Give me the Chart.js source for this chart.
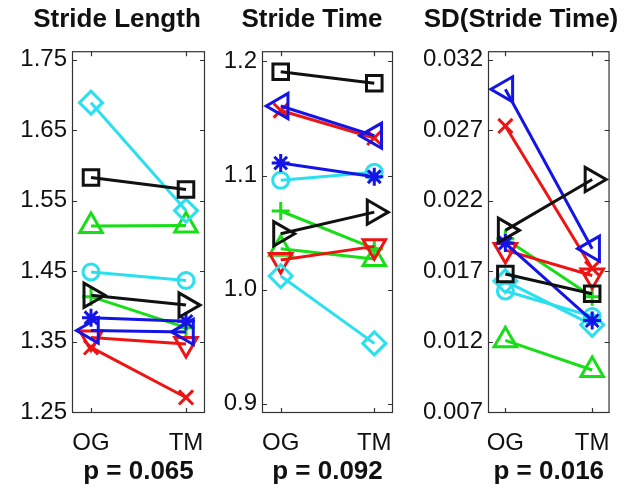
<!DOCTYPE html>
<html><head><meta charset="utf-8">
<script src="https://cdn.jsdelivr.net/npm/chart.js@4/dist/chart.umd.min.js"></script>
<style>
html,body{margin:0;padding:0;background:#fff;}
#wrap{position:relative;width:628px;height:491px;overflow:hidden;background:#fff;}
canvas{position:absolute;top:0;}
</style></head><body>
<div id="wrap">
<canvas id="c0" width="234" height="491" style="left:0px"></canvas>
<canvas id="c1" width="204" height="491" style="left:210px"></canvas>
<canvas id="c2" width="214" height="491" style="left:414px"></canvas>
</div>
<script>
// ---- data ----
const categories = ['OG', 'TM'];
const panelTitles = ['Stride Length', 'Stride Time', 'SD(Stride Time)'];
const pValues = ['p = 0.065', 'p = 0.092', 'p = 0.016'];

const subjects = ['S1','S2','S3','S4','S5','S6','S7','S8','S9','S10'];

const lengthTicks = [1.25, 1.35, 1.45, 1.55, 1.65, 1.75];
const lengthTickLabels = ['1.25', '1.35', '1.45', '1.55', '1.65', '1.75'];
const timeTicks = [0.9, 1.0, 1.1, 1.2];
const timeTickLabels = ['0.9', '1.0', '1.1', '1.2'];
const sdTicks = [0.007, 0.012, 0.017, 0.022, 0.027, 0.032];
const sdTickLabels = ['0.007', '0.012', '0.017', '0.022', '0.027', '0.032'];

// order: black sq, black tri-right, blue tri-left, blue star, cyan circle, cyan diamond, red tri-down, red x, green tri, green plus
const lengthOG = [1.583, 1.416, 1.366, 1.384, 1.449, 1.689, 1.356, 1.342, 1.514, 1.414];
const lengthTM = [1.566, 1.402, 1.364, 1.379, 1.437, 1.536, 1.347, 1.271, 1.515, 1.370];
const timeOG   = [1.191, 1.049, 1.161, 1.111, 1.096, 1.012, 1.026, 1.157, 1.036, 1.069];
const timeTM   = [1.181, 1.068, 1.135, 1.099, 1.103, 0.953, 1.038, 1.133, 1.027, 1.036];
const sdOG     = [0.0168, 0.0199, 0.0299, 0.0190, 0.0156, 0.0163, 0.0185, 0.0273, 0.0121, 0.0193];
const sdTM     = [0.0154, 0.0235, 0.0186, 0.0135, 0.0138, 0.0132, 0.0167, 0.0172, 0.0100, 0.0152];

// ---- styles ----
const subjColors = ['#111111','#111111','#1414e6','#1414e6','#2ae0ee','#2ae0ee','#ee1414','#ee1414','#18de18','#18de18'];
const subjStyles = ['rect','triangle','triangle','star','circle','rectRot','triangle','crossRot','triangle','cross'];
const subjRotation = [0, 90, 270, 0, 0, 0, 180, 0, 0, 0];
const subjRadius = [11, 14, 14.5, 9, 8, 11.5, 13, 10, 13, 9];

const FONT = "'Liberation Sans', Arial, Helvetica, sans-serif";

const boxPlugin = {
  id: 'box',
  beforeDatasetsDraw(chart) {
    const {ctx, chartArea: a, scales: {x, y}} = chart;
    ctx.save();
    ctx.strokeStyle = '#333';
    ctx.lineWidth = 1.2;
    ctx.strokeRect(a.left + 0.5, a.top + 0.5, a.right - a.left - 1, a.bottom - a.top - 1);
    const L = 5;
    ctx.beginPath();
    y.ticks.forEach(t => {
      const p = Math.round(y.getPixelForValue(t.value)) + 0.5;
      ctx.moveTo(a.left, p); ctx.lineTo(a.left + L, p);
      ctx.moveTo(a.right, p); ctx.lineTo(a.right - L, p);
    });
    x.ticks.forEach(t => {
      const p = Math.round(x.getPixelForValue(t.value)) + 0.5;
      ctx.moveTo(p, a.top); ctx.lineTo(p, a.top + L);
      ctx.moveTo(p, a.bottom); ctx.lineTo(p, a.bottom - L);
    });
    ctx.stroke();
    ctx.restore();
  }
};

function makePanel(id, idx, og, tm, ticks, tickLabels, ymin, ymax, yWidth, rightPad) {
  const datasets = subjects.map((s, i) => ({
    label: s,
    data: categories.map((c, k) => ({x: k, y: k === 0 ? og[i] : tm[i]})),
    borderColor: subjColors[i],
    backgroundColor: 'rgba(0,0,0,0)',
    pointBorderColor: subjColors[i],
    pointBackgroundColor: 'rgba(0,0,0,0)',
    pointStyle: subjStyles[i],
    pointRotation: subjRotation[i],
    pointRadius: subjRadius[i],
    pointBorderWidth: 3,
    borderWidth: 3,
    tension: 0,
    clip: false
  }));
  new Chart(document.getElementById(id), {
    type: 'line',
    data: {datasets},
    plugins: [boxPlugin],
    options: {
      responsive: false,
      devicePixelRatio: 1,
      animation: false,
      layout: {padding: 0},
      plugins: {
        legend: {display: false},
        tooltip: {enabled: false},
        title: {display: true, text: panelTitles[idx], color: '#111',
          font: {family: FONT, size: 26, weight: 'bold'}, padding: {top: 4, bottom: 16}}
      },
      scales: {
        x: {
          type: 'linear', min: -0.2, max: 1.2,
          afterBuildTicks: s => { s.ticks = categories.map((c, k) => ({value: k})); },
          afterFit: s => { s.height = 78; },
          ticks: {callback: v => categories[Math.round(v)], color: '#111', autoSkip: false, maxRotation: 0,
            font: {family: FONT, size: 24}, padding: 16},
          grid: {display: false, drawTicks: false},
          border: {display: false},
          title: {display: true, text: pValues[idx], color: '#111',
            font: {family: FONT, size: 26, weight: 'bold'}, padding: {top: 0, bottom: 4}}
        },
        y: {
          type: 'linear', min: ymin, max: ymax,
          afterBuildTicks: s => { s.ticks = ticks.map(v => ({value: v})); },
          afterFit: s => { s.width = yWidth; },
          ticks: {callback: (v, i) => tickLabels[ticks.indexOf(v)] ?? tickLabels[i], color: '#111',
            font: {family: FONT, size: 24}, padding: 5},
          grid: {display: false, drawTicks: false},
          border: {display: false}
        },
        yRight: {
          type: 'linear', position: 'right', min: ymin, max: ymax,
          afterFit: s => { s.width = rightPad; },
          ticks: {display: false},
          grid: {display: false, drawTicks: false},
          border: {display: false}
        }
      }
    }
  });
}

makePanel('c0', 0, lengthOG, lengthTM, lengthTicks, lengthTickLabels, 1.249, 1.762, 72, 29);
makePanel('c1', 1, timeOG, timeTM, timeTicks, timeTickLabels, 0.892, 1.209, 52, 21);
makePanel('c2', 2, sdOG, sdTM, sdTicks, sdTickLabels, 0.00695, 0.0326, 74, 15);
</script>
</body></html>
